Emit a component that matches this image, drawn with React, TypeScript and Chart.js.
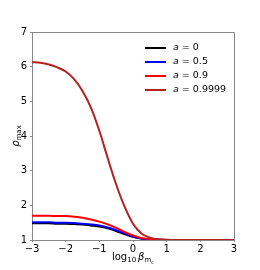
import React, { useEffect, useRef } from "react";
import { Chart, registerables } from "chart.js";

Chart.register(...registerables);

const logBeta = [-3, -2.75, -2.5, -2.25, -2, -1.75, -1.5, -1.25, -1, -0.75, -0.5, -0.25, 0, 0.25, 0.5, 0.75, 1, 1.5, 2, 2.5, 3];
const rhoA0 = [1.48, 1.48, 1.48, 1.47, 1.47, 1.46, 1.45, 1.42, 1.39, 1.34, 1.26, 1.17, 1.09, 1.04, 1.01, 1.0, 1.0, 1.0, 1.0, 1.0, 1.0];
const rhoA05 = [1.51, 1.51, 1.51, 1.5, 1.5, 1.49, 1.47, 1.45, 1.42, 1.36, 1.28, 1.19, 1.1, 1.04, 1.02, 1.01, 1.0, 1.0, 1.0, 1.0, 1.0];
const rhoA09 = [1.7, 1.7, 1.7, 1.69, 1.69, 1.67, 1.64, 1.59, 1.53, 1.45, 1.35, 1.23, 1.13, 1.06, 1.03, 1.01, 1.0, 1.0, 1.0, 1.0, 1.0];
const rhoA09999 = [6.13, 6.11, 6.06, 5.98, 5.86, 5.64, 5.3, 4.82, 4.15, 3.36, 2.6, 1.96, 1.47, 1.19, 1.07, 1.02, 1.01, 1.0, 1.0, 1.0, 1.0];

const spinLabels = ["0", "0.5", "0.9", "0.9999"];
const seriesColors = ["#000000", "#0000ff", "#ff0000", "#b22222"];
const seriesValues = [rhoA0, rhoA05, rhoA09, rhoA09999];

const xTicks = [-3, -2, -1, 0, 1, 2, 3];
const yTicks = [1, 2, 3, 4, 5, 6, 7];

const FONT = "'DejaVu Sans', sans-serif";

const decorPlugin = {
  id: "decor",
  afterDraw(chart: any) {
    const { ctx, chartArea } = chart;
    const { left, right, top, bottom } = chartArea;
    ctx.save();
    // frame top/right
    ctx.strokeStyle = "#888888";
    ctx.lineWidth = 1;
    ctx.beginPath();
    ctx.moveTo(left, top + 0.5);
    ctx.lineTo(right + 0.5, top + 0.5);
    ctx.lineTo(right + 0.5, bottom);
    ctx.stroke();

    // legend
    const lx0 = 145, lx1 = 166, tx = 173;
    const rows = [48, 62, 76, 90];
    ctx.textBaseline = "middle";
    spinLabels.forEach((lab, i) => {
      ctx.strokeStyle = seriesColors[i];
      ctx.lineWidth = 2;
      ctx.beginPath();
      ctx.moveTo(lx0, rows[i]);
      ctx.lineTo(lx1, rows[i]);
      ctx.stroke();
      ctx.fillStyle = "#000";
      ctx.font = `italic 9.5px ${FONT}`;
      ctx.textAlign = "left";
      ctx.fillText("a", tx, rows[i]);
      const w = ctx.measureText("a").width;
      ctx.font = `9.5px ${FONT}`;
      ctx.fillText(" = " + lab, tx + w, rows[i]);
    });

    // x label: log10 beta_{m_c}
    const xc = (left + right) / 2;
    const base = 260;
    ctx.textBaseline = "alphabetic";
    ctx.textAlign = "left";
    const parts: [string, string, number][] = [
      ["log", `10px ${FONT}`, 0],
      ["10", `7px ${FONT}`, 2],
      ["\u2009", `10px ${FONT}`, 0],
      ["β", `italic 10px ${FONT}`, 0],
      ["m", `7px ${FONT}`, 2],
      ["c", `5px ${FONT}`, 3.5],
    ];
    let total = 0;
    parts.forEach(([t, f]) => { ctx.font = f; total += ctx.measureText(t).width; });
    let x = xc - total / 2;
    parts.forEach(([t, f, dy]) => {
      ctx.font = f;
      ctx.fillText(t, x, base + dy);
      x += ctx.measureText(t).width;
    });

    // y label: rho_max rotated
    const yc = (top + bottom) / 2;
    ctx.translate(19, yc);
    ctx.rotate(-Math.PI / 2);
    const yparts: [string, string, number][] = [
      ["ρ", `italic 10px ${FONT}`, 0],
      ["max", `7px ${FONT}`, 2],
    ];
    let tw = 0;
    yparts.forEach(([t, f]) => { ctx.font = f; tw += ctx.measureText(t).width; });
    let yx = -tw / 2;
    yparts.forEach(([t, f, dy]) => {
      ctx.font = f;
      ctx.fillText(t, yx, dy);
      yx += ctx.measureText(t).width;
    });
    ctx.restore();
  },
};

export default function App() {
  const ref = useRef<HTMLCanvasElement | null>(null);
  useEffect(() => {
    if (!ref.current) return;
    const datasets = seriesValues.map((vals, i) => ({
      label: "a = " + spinLabels[i],
      data: logBeta.map((x, j) => ({ x, y: vals[j] })),
      borderColor: seriesColors[i],
      backgroundColor: seriesColors[i],
      borderWidth: 2,
      pointRadius: 0,
      tension: 0.4,
      cubicInterpolationMode: "monotone" as const,
      fill: false,
      order: 4 - i,
    }));
    const tickFont = { family: FONT, size: 10 };
    const chart = new Chart(ref.current, {
      type: "line",
      data: { datasets },
      plugins: [decorPlugin],
      options: {
        animation: false,
        responsive: true,
        maintainAspectRatio: false,
        layout: { padding: { top: 32, right: 26, left: 0, bottom: 0 } },
        plugins: { legend: { display: false }, tooltip: { enabled: false } },
        scales: {
          x: {
            type: "linear",
            min: -3,
            max: 3,
            afterBuildTicks: (s: any) => { s.ticks = xTicks.map((v) => ({ value: v })); },
            afterFit: (s: any) => { s.height = 30; },
            ticks: {
              color: "#000",
              font: tickFont,
              padding: 1,
              maxRotation: 0,
              autoSkip: false,
              callback: (v: any) => String(v).replace("-", "\u2212"),
            },
            grid: { drawOnChartArea: false, drawTicks: true, tickLength: 2, color: "#888888" },
            border: { display: true, color: "#888888", width: 1 },
          },
          y: {
            type: "linear",
            min: 1,
            max: 7,
            afterBuildTicks: (s: any) => { s.ticks = yTicks.map((v) => ({ value: v })); },
            afterFit: (s: any) => { s.width = 32; },
            ticks: {
              color: "#000",
              font: tickFont,
              padding: 3,
              callback: (v: any) => String(v),
            },
            grid: { drawOnChartArea: false, drawTicks: true, tickLength: 2, color: "#888888" },
            border: { display: true, color: "#888888", width: 1 },
          },
        },
      },
    });
    return () => chart.destroy();
  }, []);
  return (
    <div style={{ position: "fixed", left: 0, top: 0, width: 260, height: 270, background: "#fff" }}>
      <canvas ref={ref} />
    </div>
  );
}
